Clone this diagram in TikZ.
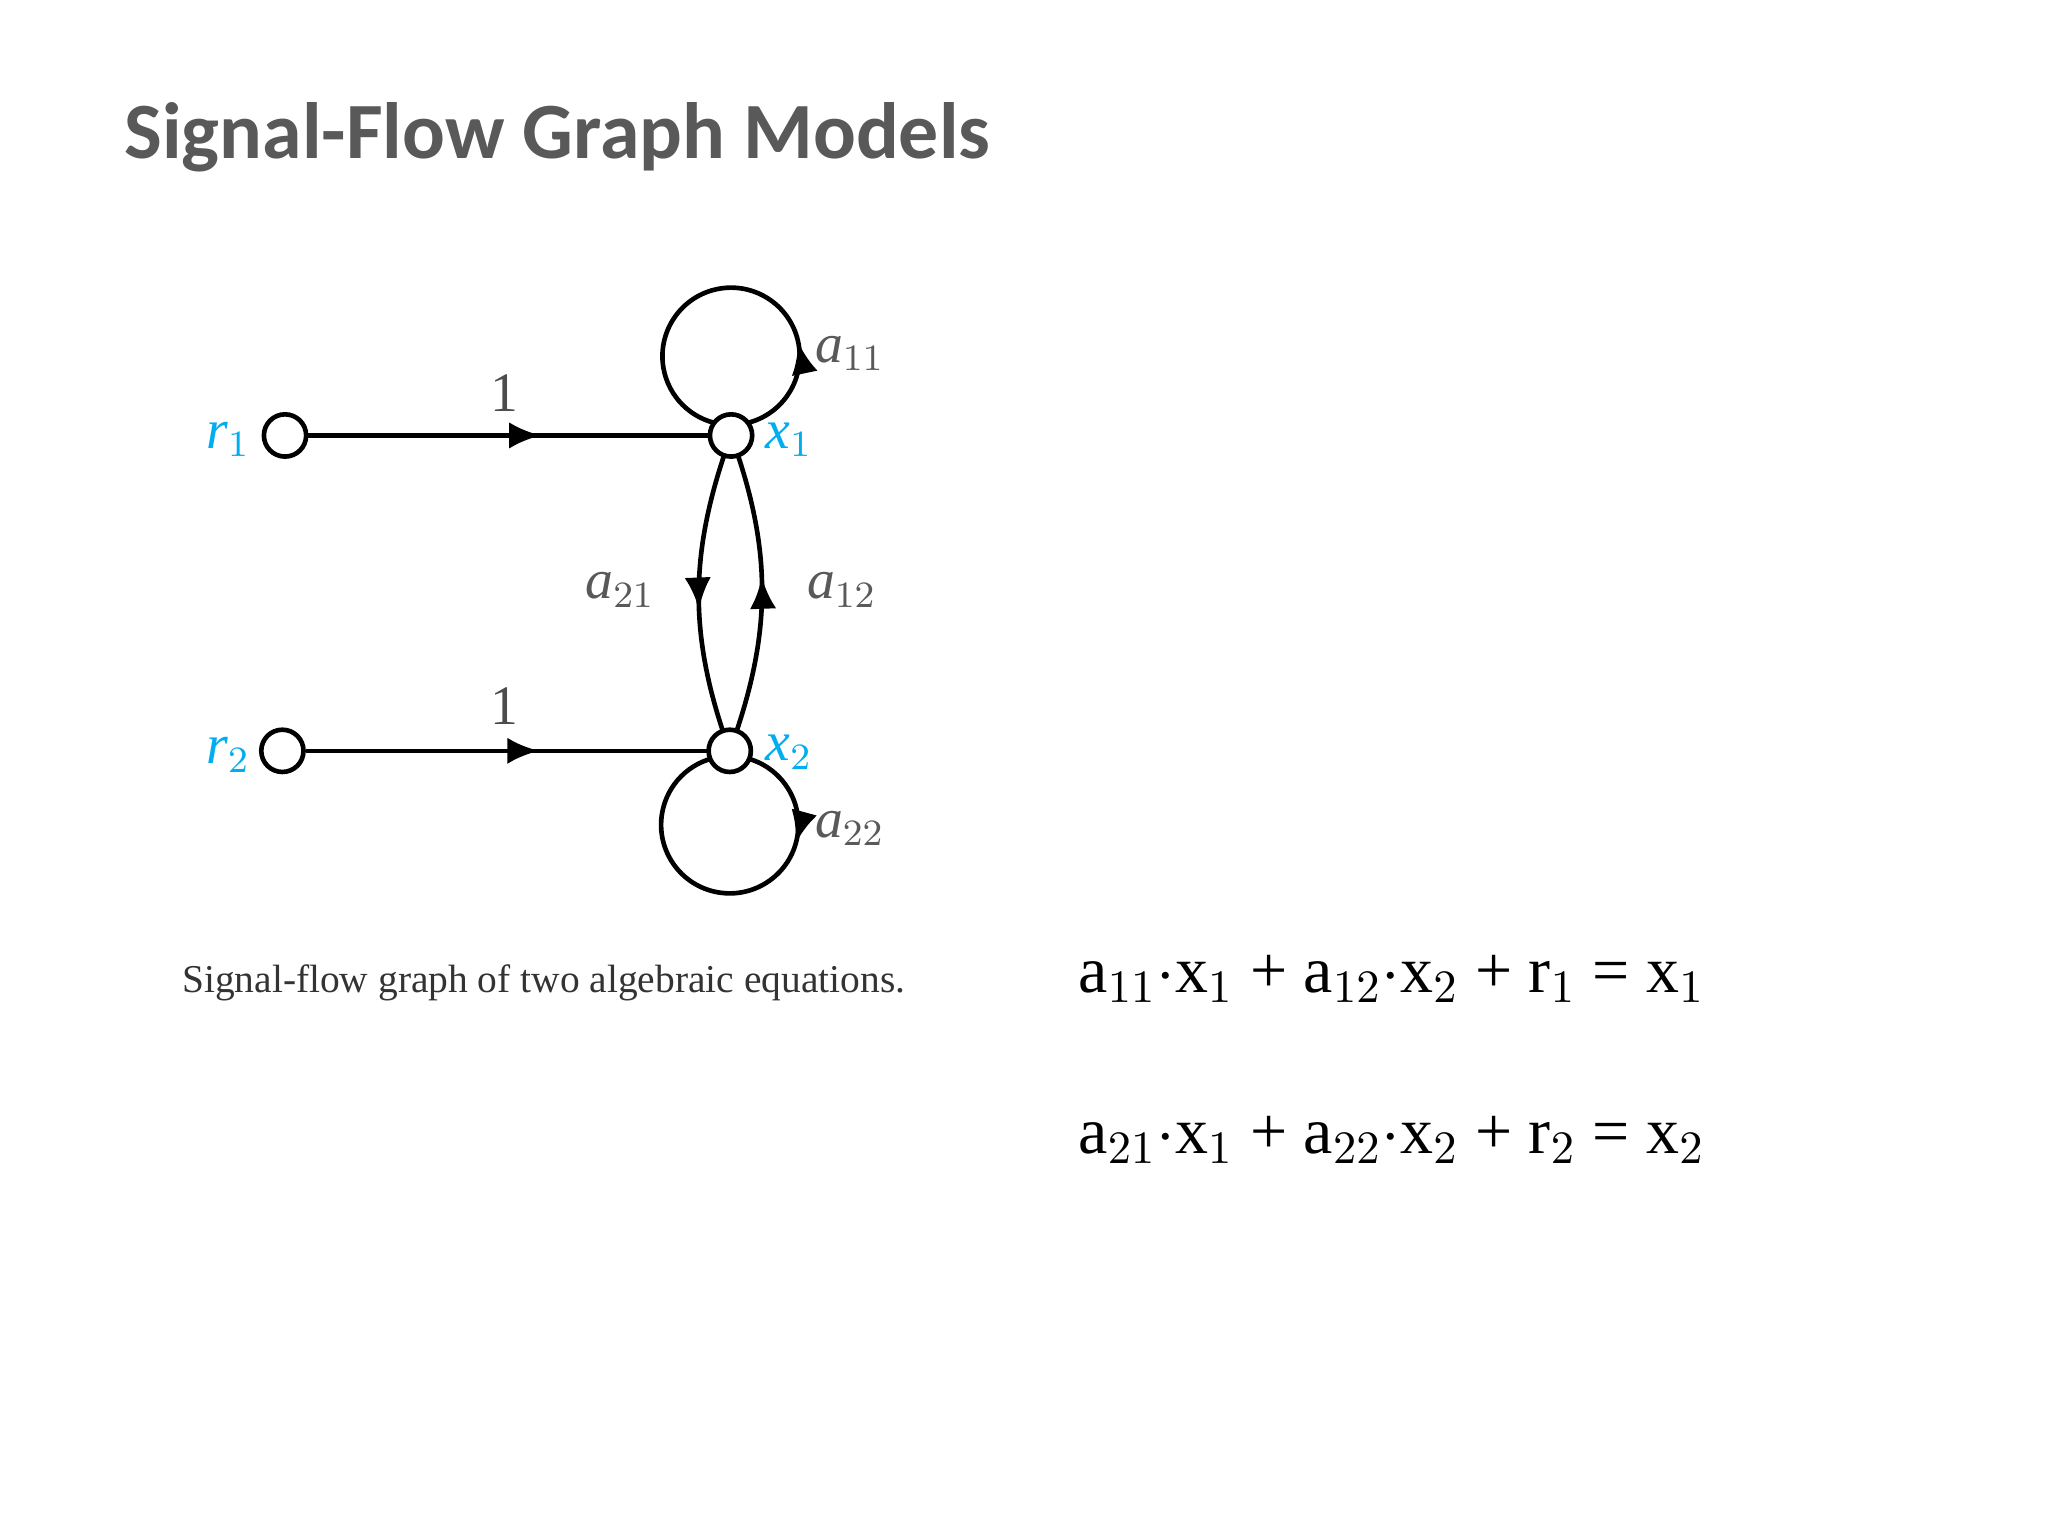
\documentclass[tikz,border=0pt]{standalone}
\usepackage{fontspec}
\setmainfont{Liberation Serif}
\newfontfamily\titlefont{Carlito}
\usetikzlibrary{decorations.markings,arrows.meta}
\begin{document}
\begin{tikzpicture}[x=0.01cm,y=-0.01cm,
  sn/.style={circle,draw,line width=1pt,minimum size=0.32cm,inner sep=0pt,fill=white},
  br/.style={line width=1pt},
  midarr/.style={postaction={decorate},decoration={markings,mark=at position #1 with {\arrow{Latex[length=0.24cm,width=0.2cm]}}}},
  lab/.style={font=\fontsize{12pt}{12pt}\selectfont\itshape, text=black!65},
  clab/.style={font=\fontsize{12pt}{12pt}\selectfont\itshape, text=cyan},
  eq/.style={font=\fontsize{14.2pt}{15pt}\selectfont, anchor=base west}]
\useasboundingbox (0,0) rectangle (1552,1164);
\node[anchor=base west,font=\titlefont\bfseries\fontsize{17.2pt}{18pt}\selectfont,text=black!65] (title) at (82,120) {Signal-Flow Graph Models};
% loops
\draw[br,midarr=0.27] (554,270) ++(80:52) arc[start angle=80,end angle=-260,radius=52];
\draw[br,midarr=0.28] (553,625) ++(-80:52) arc[start angle=-80,end angle=260,radius=52];
\node[sn] (r1) at (216,330) {};
\node[sn] (r2) at (214,569) {};
\coordinate (x1c) at (554,330);
\coordinate (x2c) at (553,569);
\draw[br,midarr=0.55] (r1) -- (x1c);
\draw[br,midarr=0.55] (r2) -- (x2c);
\draw[br,midarr=0.55] (x1c) to[out=250,in=110] (x2c);
\draw[br,midarr=0.55] (x2c) to[out=70,in=-70] (x1c);
\node[sn] (x1) at (x1c) {};
\node[sn] (x2) at (x2c) {};
\node[clab] (lr1) at (173,333) {r$_1$};
\node[clab] (lr2) at (173,572) {r$_2$};
\node[clab] (lx1) at (598,333) {x$_1$};
\node[clab] (lx2) at (598,570) {x$_2$};
\node[font=\fontsize{12pt}{12pt}\selectfont,text=black!70] (o1) at (382,298) {1};
\node[font=\fontsize{12pt}{12pt}\selectfont,text=black!70] (o2) at (382,535) {1};
\node[lab] (a11) at (644,268) {a$_{11}$};
\node[lab] (a21) at (470,447) {a$_{21}$};
\node[lab] (a12) at (638,447) {a$_{12}$};
\node[lab] (a22) at (644,628) {a$_{22}$};
\node[font=\fontsize{8.5pt}{10pt}\selectfont,text=black!80] (cap) at (412,745) {Signal-flow graph of two algebraic equations.};
\node[eq] (e1) at (805,752) {a$_{11}$$\cdot$x$_1$ + a$_{12}$$\cdot$x$_2$ + r$_1$ = x$_1$};
\node[eq] (e2) at (805,874) {a$_{21}$$\cdot$x$_1$ + a$_{22}$$\cdot$x$_2$ + r$_2$ = x$_2$};
\end{tikzpicture}
\end{document}
